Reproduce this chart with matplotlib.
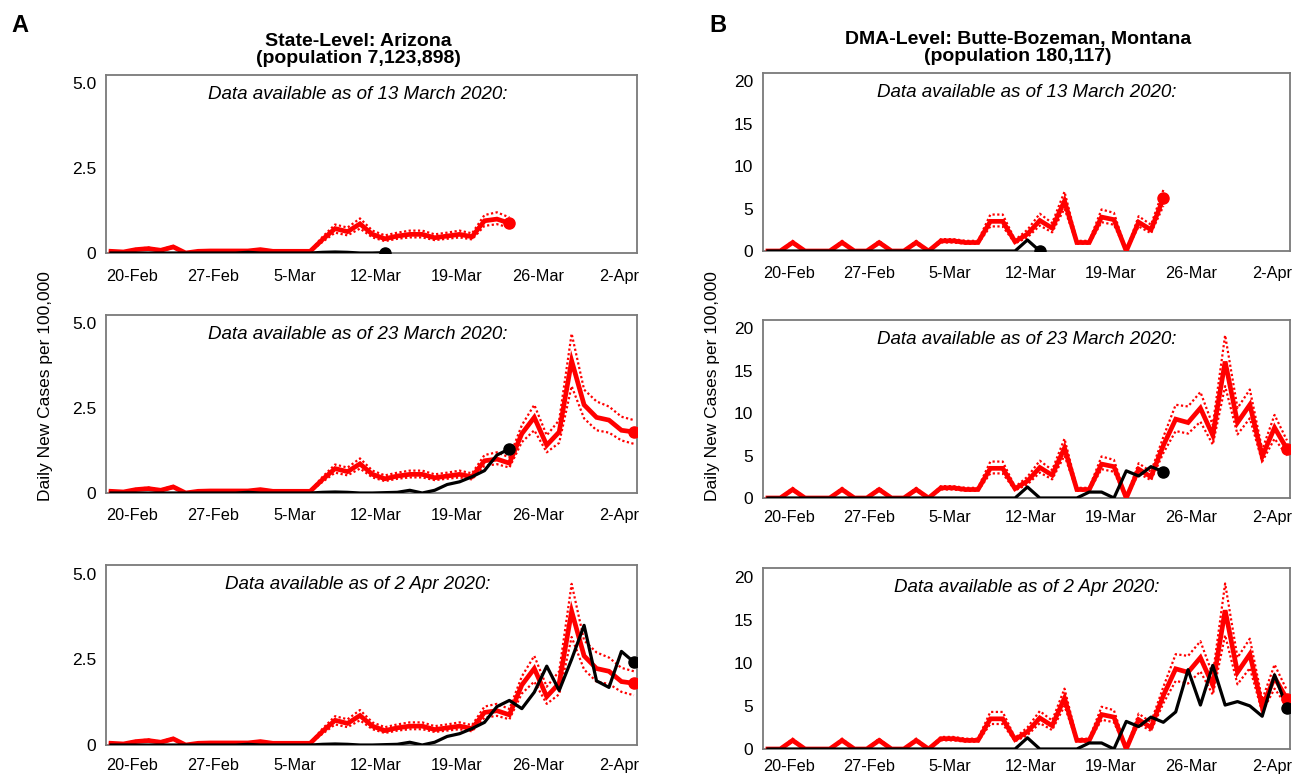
import numpy as np
import pandas as pd
import matplotlib
matplotlib.use('Agg')
import matplotlib.pyplot as plt

plt.rcParams['font.family'] = ['Liberation Sans', 'DejaVu Sans']

# ---------------- data ----------------
dates = pd.date_range('2020-02-20', '2020-04-02', freq='D')
tick_labels = ['20-Feb', '27-Feb', '5-Mar', '12-Mar', '19-Mar', '26-Mar', '2-Apr']
as_of_dates = ['2020-03-13', '2020-03-23', '2020-04-02']
as_of_text = ['13 March 2020', '23 March 2020', '2 Apr 2020']
forecast_days = 10

# Arizona (state level), daily new cases per 100,000
az_est = [0.05, 0.03, 0.10, 0.13, 0.08, 0.18, 0.00, 0.05, 0.06, 0.06, 0.06,
          0.06, 0.10, 0.05, 0.05, 0.05, 0.05, 0.40, 0.72, 0.63, 0.86, 0.55,
          0.42, 0.50, 0.55, 0.55, 0.45, 0.50, 0.55, 0.48, 0.95, 1.00, 0.88,
          1.75, 2.23, 1.41, 1.80, 3.90, 2.60, 2.23, 2.15, 1.85, 1.80]
az_hi = [0.06, 0.04, 0.12, 0.16, 0.10, 0.21, 0.01, 0.06, 0.07, 0.07, 0.07,
         0.07, 0.12, 0.06, 0.06, 0.06, 0.06, 0.48, 0.84, 0.75, 1.02, 0.66,
         0.52, 0.60, 0.66, 0.66, 0.55, 0.60, 0.66, 0.58, 1.12, 1.20, 1.05,
         2.00, 2.60, 1.70, 2.15, 4.70, 3.05, 2.70, 2.55, 2.25, 2.15]
az_lo = [0.04, 0.02, 0.08, 0.11, 0.06, 0.15, 0.00, 0.04, 0.05, 0.05, 0.05,
         0.05, 0.08, 0.04, 0.04, 0.04, 0.04, 0.33, 0.60, 0.52, 0.72, 0.46,
         0.35, 0.42, 0.46, 0.46, 0.38, 0.42, 0.46, 0.40, 0.80, 0.85, 0.75,
         1.50, 1.85, 1.20, 1.48, 3.15, 2.20, 1.85, 1.78, 1.55, 1.45]
az_obs = [0, 0, 0, 0, 0, 0, 0, 0, 0, 0, 0,
          0.02, 0, 0, 0, 0, 0, 0.02, 0.03, 0.02, 0, 0,
          0.01, 0.02, 0.08, 0.00, 0.08, 0.25, 0.33, 0.48, 0.66, 1.12, 1.30,
          1.06, 1.54, 2.30, 1.59, 2.50, 3.49, 1.87, 1.68, 2.73, 2.42]

# Butte-Bozeman, Montana (DMA level)
mt_est = [0, 0, 1.0, 0, 0, 0, 1.0, 0, 0, 1.0, 0,
          0, 1.0, 0, 1.2, 1.2, 1.0, 1.0, 3.5, 3.5, 1.1, 2.0,
          3.6, 2.7, 5.9, 1.0, 1.0, 4.0, 3.7, 0.0, 3.4, 2.5, 6.2,
          9.3, 8.9, 10.6, 7.4, 16.1, 8.9, 11.0, 4.9, 8.3, 5.8]
mt_hi = [0, 0, 1.2, 0, 0, 0, 1.2, 0, 0, 1.2, 0,
         0, 1.2, 0, 1.4, 1.4, 1.2, 1.2, 4.3, 4.3, 1.3, 2.5,
         4.4, 3.3, 7.0, 1.2, 1.2, 4.9, 4.5, 0.05, 4.1, 3.1, 7.2,
         11.0, 10.8, 12.5, 8.6, 19.2, 10.6, 12.8, 5.7, 9.8, 6.8]
mt_lo = [0, 0, 0.85, 0, 0, 0, 0.85, 0, 0, 0.85, 0,
         0, 0.85, 0, 1.0, 1.0, 0.85, 0.85, 2.9, 2.9, 0.9, 1.6,
         3.0, 2.2, 5.0, 0.85, 0.85, 3.4, 3.1, 0.0, 2.9, 2.1, 5.3,
         7.9, 7.6, 9.0, 6.3, 13.2, 7.5, 9.4, 4.3, 7.0, 5.0]
mt_obs = [0, 0, 0, 0, 0, 0, 0, 0, 0, 0, 0,
          0, 0, 0, 0, 0, 0, 0, 0, 0, 0, 1.3,
          0, 0, 0, 0, 0.7, 0.7, 0, 3.2, 2.6, 3.7, 3.1,
          4.3, 9.2, 5.1, 9.7, 5.1, 5.5, 5.0, 3.8, 8.6, 4.8]

# ---------------- figure ----------------
W, H = 1296, 776
fig = plt.figure(figsize=(W / 100, H / 100), dpi=100)


def rect(l, r, t, b):
    return [l / W, 1 - b / H, (r - l) / W, (b - t) / H]


left_frames = [(106, 637, 75, 253), (106, 637, 315, 493), (106, 637, 565, 745)]
right_frames = [(763, 1290, 73, 251), (763, 1290, 320, 498), (763, 1290, 568, 749)]
left_pads = [11.5, 10.5, 9.5]
right_pads = [11, 8.5, 7]

x = np.asarray((dates - dates[0]).days)
tick_pos = np.linspace(1.7, 40.8, len(tick_labels))
RED = '#ff0000'


def panel(frame, est, hi, lo, obs, k, yticks, ylabels, ytop, text_x, xpad):
    ax = fig.add_axes(rect(*frame))
    cut = pd.Timestamp(as_of_dates[k])
    obs_end = int(np.searchsorted(dates, cut, side='right'))
    est_end = min(obs_end + forecast_days, len(dates))
    e = np.asarray(est, float)
    h = np.asarray(hi, float)
    l = np.asarray(lo, float)
    o = np.asarray(obs, float)
    ax.plot(x[:est_end], h[:est_end], color=RED, lw=1.6,
            linestyle=(0, (1, 1.1)), zorder=2)
    ax.plot(x[:est_end], l[:est_end], color=RED, lw=1.6,
            linestyle=(0, (1, 1.1)), zorder=2)
    ax.plot(x[:est_end], e[:est_end], color=RED, lw=3.4, zorder=3,
            solid_joinstyle='miter')
    ax.plot(x[:obs_end], o[:obs_end], color='black', lw=2.3, zorder=4)
    ax.plot(x[est_end - 1], e[est_end - 1], 'o', color=RED, ms=8, zorder=5)
    ax.plot(x[obs_end - 1], o[obs_end - 1], 'o', color='black', ms=8, zorder=6)

    ax.set_xlim(-0.4, 42.25)
    ax.set_ylim(0, ytop)
    ax.set_xticks(tick_pos)
    ax.set_xticklabels(tick_labels)
    ax.set_yticks(yticks)
    ax.set_yticklabels(ylabels)
    ax.tick_params(axis='x', length=0, pad=xpad, labelsize=11.7)
    ax.tick_params(axis='y', length=0, pad=7, labelsize=12.5)
    for s in ax.spines.values():
        s.set_color('#7a7a7a')
        s.set_linewidth(1.3)
    ax.text(text_x, 0.89, 'Data available as of %s:' % as_of_text[k],
            transform=ax.transAxes, ha='center', va='center',
            fontsize=13.5, style='italic')
    return ax


for k in range(3):
    panel(left_frames[k], az_est, az_hi, az_lo, az_obs, k,
          [0, 2.5, 5.0], ['0', '2.5', '5.0'], 5.25, 0.475, left_pads[k])
    panel(right_frames[k], mt_est, mt_hi, mt_lo, mt_obs, k,
          [0, 5, 10, 15, 20], ['0', '5', '10', '15', '20'], 21.0, 0.5,
          right_pads[k])

fig.text(20 / W, 1 - 26 / H, 'A', fontsize=17, fontweight='bold',
         ha='center', va='center')
fig.text(718 / W, 1 - 26 / H, 'B', fontsize=17, fontweight='bold',
         ha='center', va='center')
fig.text(358 / W, 1 - 50 / H, 'State-Level: Arizona\n(population 7,123,898)',
         ha='center', va='center', fontsize=14, fontweight='bold',
         linespacing=1.0)
fig.text(1018 / W, 1 - 48 / H, 'DMA-Level: Butte-Bozeman, Montana\n(population 180,117)',
         ha='center', va='center', fontsize=14, fontweight='bold',
         linespacing=1.0)
fig.text(46 / W, 1 - 386 / H, 'Daily New Cases per 100,000', rotation=90,
         ha='center', va='center', fontsize=12.5)
fig.text(712 / W, 1 - 386 / H, 'Daily New Cases per 100,000', rotation=90,
         ha='center', va='center', fontsize=12.5)

fig.savefig('out.png', dpi=100)
